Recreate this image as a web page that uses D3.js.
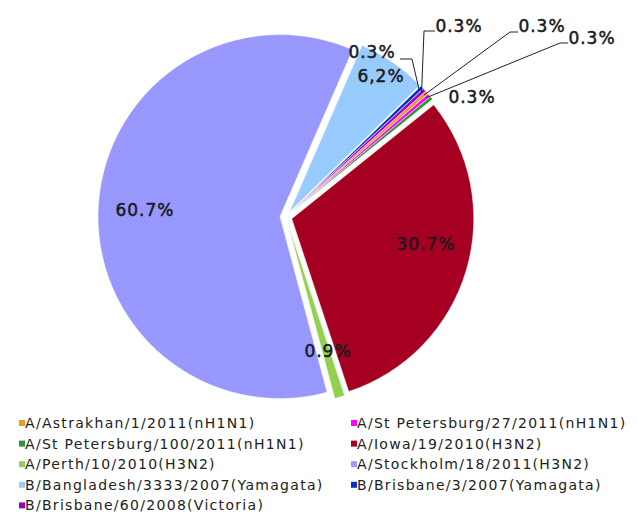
<!DOCTYPE html>
<html>
<head>
<meta charset="utf-8">
<script src="https://cdn.jsdelivr.net/npm/d3@7/dist/d3.min.js"></script>
<style>
  body { margin: 0; background: #fff; }
  svg { display: block; }
</style>
</head>
<body>
<div id="chart"></div>
<script>
// Data (series order as in the legend)
const strains = [
  'A/Astrakhan/1/2011(nH1N1)',
  'A/St Petersburg/27/2011(nH1N1)',
  'A/St Petersburg/100/2011(nH1N1)',
  'A/Iowa/19/2010(H3N2)',
  'A/Perth/10/2010(H3N2)',
  'A/Stockholm/18/2011(H3N2)',
  'B/Bangladesh/3333/2007(Yamagata)',
  'B/Brisbane/3/2007(Yamagata)',
  'B/Brisbane/60/2008(Victoria)'
];
const shares = [0.3, 0.3, 0.3, 30.7, 0.9, 60.7, 6.2, 0.3, 0.3];
const shareLabels = ['0.3%', '0.3%', '0.3%', '30.7%', '0.9%', '60.7%', '6,2%', '0.3%', '0.3%'];

const palette = ['#ee9a1c', '#ff00ff', '#2f9436', '#a50021', '#92d050',
                 '#9999ff', '#99ccff', '#0033cc', '#9900cc'];

// label placement (text centre x, baseline y) and leader elbows, layout only
const labelAt = [[542, 32], [592, 44], [472, 103], [426, 250], [328, 357],
                 [145, 216], [381, 82], [372, 58], [459, 32]];
const leaders = [
  [[518, 32], [510, 32]],
  [[568, 43], [560, 43]],
  null, null, null, null, null,
  [[400, 59], [412, 59]],
  [[435, 31], [424, 31]]
];

const width = 638, height = 515;
const cx = 286, cy = 217, radius = 182, explode = 6;
const start = 48 * Math.PI / 180;

const svg = d3.select('#chart').append('svg')
  .attr('width', width)
  .attr('height', height);

// faint dither like the original bitmap
const defs = svg.append('defs');
[['lav', '#9999ff', '#8c8cf2'], ['sky', '#99ccff', '#8fc0f5']].forEach(([id, base, dot]) => {
  const p = defs.append('pattern').attr('id', id)
    .attr('width', 4).attr('height', 4).attr('patternUnits', 'userSpaceOnUse');
  p.append('rect').attr('width', 4).attr('height', 4).attr('fill', base);
  p.append('rect').attr('x', 0).attr('y', 0).attr('width', 1).attr('height', 1).attr('fill', dot);
  p.append('rect').attr('x', 2).attr('y', 2).attr('width', 1).attr('height', 1).attr('fill', dot);
});
const fills = palette.map((c, i) => i === 5 ? 'url(#lav)' : i === 6 ? 'url(#sky)' : c);

const pie = d3.pie().sort(null).value(d => d)
  .startAngle(start).endAngle(start + 2 * Math.PI);
const arcs = pie(shares);
const arc = d3.arc().innerRadius(0).outerRadius(radius);

function offset(d, r) {
  const a = (d.startAngle + d.endAngle) / 2;
  return [Math.sin(a) * r, -Math.cos(a) * r];
}

const g = svg.append('g').attr('transform', `translate(${cx},${cy})`);

g.selectAll('path.slice')
  .data(arcs)
  .join('path')
  .attr('class', 'slice')
  .attr('transform', d => `translate(${offset(d, explode)})`)
  .attr('d', arc)
  .attr('fill', (d, i) => fills[i])
  .attr('stroke', '#fff')
  .attr('stroke-width', 0.5);

// leader lines for the small slices
arcs.forEach((d, i) => {
  if (!leaders[i]) return;
  const o = offset(d, explode);
  const a = (d.startAngle + d.endAngle) / 2;
  const end = [cx + o[0] + Math.sin(a) * (radius - 4), cy + o[1] - Math.cos(a) * (radius - 4)];
  svg.append('path')
    .attr('d', d3.line()([...leaders[i], end]))
    .attr('fill', 'none')
    .attr('stroke', '#222')
    .attr('stroke-width', 1);
});

svg.selectAll('text.pct')
  .data(arcs)
  .join('text')
  .attr('class', 'pct')
  .attr('x', (d, i) => labelAt[i][0])
  .attr('y', (d, i) => labelAt[i][1])
  .attr('text-anchor', 'middle')
  .attr('font-family', 'DejaVu Sans, sans-serif')
  .attr('font-size', 17)
  .attr('letter-spacing', 1)
  .attr('fill', '#1a1a22')
  .attr('stroke', '#1a1a22')
  .attr('stroke-width', 0.5)
  .text((d, i) => shareLabels[i]);

// legend, two columns
const legend = svg.append('g');
const item = legend.selectAll('g')
  .data(strains)
  .join('g')
  .attr('transform', (d, i) => `translate(${i % 2 ? 351 : 19},${423 + Math.floor(i / 2) * 20.6})`);

item.append('rect')
  .attr('x', 0).attr('y', -3)
  .attr('width', 6).attr('height', 6)
  .attr('fill', (d, i) => palette[i]);

item.append('text')
  .attr('x', 6)
  .attr('y', 5)
  .attr('font-family', 'DejaVu Sans, sans-serif')
  .attr('font-size', 14)
  .attr('letter-spacing', 1.3)
  .attr('fill', '#222')
  .text(d => d);
</script>
</body>
</html>
